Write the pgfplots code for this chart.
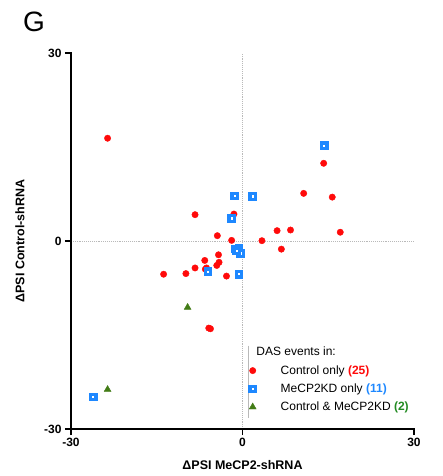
\documentclass[border=0pt]{standalone}
\usepackage{pgfplots}
\pgfplotsset{compat=1.18}
\usepackage{fontspec}
\setmainfont{Liberation Sans}
\definecolor{cred}{RGB}{255,10,10}
\definecolor{cblue}{RGB}{30,136,255}
\definecolor{cgreen}{RGB}{66,124,22}
\definecolor{tgreen}{RGB}{34,139,34}
\definecolor{lgray}{RGB}{185,185,185}
\begin{document}
\begin{tikzpicture}
\useasboundingbox (-71pt,-47pt) rectangle (371pt,429pt);
\begin{axis}[
  at={(0,0)}, anchor=south west, scale only axis,
  width=343pt, height=376pt,
  xmin=-30, xmax=30, ymin=-30, ymax=30,
  axis x line=bottom, axis y line=left,
  axis line style={-, line width=1.3pt, black},
  xtick={-30,0,30}, ytick={-30,0,30},
  tick align=outside,
  major tick length=6pt,
  tick style={line width=1.3pt, black},
  /pgf/number format/assume math mode=true,
  tick label style={font=\bfseries\fontsize{12}{14}\selectfont},
  xlabel={\bfseries ΔPSI MeCP2-shRNA},
  ylabel={\bfseries ΔPSI Control-shRNA},
  label style={font=\bfseries\fontsize{12.5}{15}\selectfont},
  xlabel style={at={(axis description cs:0.5,0)}, anchor=center, yshift=-36pt},
  ylabel style={at={(axis description cs:0,0.5)}, anchor=center, yshift=51pt},
  clip=false,
  legend style={at={(axis cs:0.62,-19.2)}, anchor=north west, draw=none, fill=none,
    font=\fontsize{12}{14}\selectfont, row sep=4pt, legend cell align=left},
  legend image code/.code={\path[draw=none,fill=none] (0pt,-4pt) rectangle (29pt,4pt); \draw[#1] plot coordinates {(3pt,0pt)};},
]
\draw[lgray, densely dotted, line width=0.9pt] (axis cs:0,-30) -- (axis cs:0,30);
\draw[lgray, densely dotted, line width=0.9pt] (axis cs:-30,0) -- (axis cs:30,0);

\addplot[only marks, mark=*, mark size=3.2pt, draw=cred, fill=cred] coordinates {
(-23.6,16.4) (-8.3,4.2) (-1.5,4.3) (-4.4,0.85) (-1.9,0.1)
(14.2,12.4) (10.7,7.6) (15.7,7.0) (6.05,1.65) (8.4,1.75)
(17.1,1.4) (3.4,0.05) (6.8,-1.3) (-4.2,-2.2) (-6.6,-3.1)
(-4.1,-3.4) (-4.5,-3.9) (-8.3,-4.3) (-6.3,-4.3) (-6.5,-4.5)
(-9.9,-5.2) (-13.8,-5.3) (-2.8,-5.6) (-5.9,-13.9) (-5.6,-14.0)
};
\addlegendentry{Control only {\bfseries\color{cred}(25)}}

\addplot[only marks, mark=square*, mark size=2.7pt, draw=cblue, fill=white, line width=3.2pt] coordinates {
(14.3,15.2) (-1.35,7.2) (1.8,7.1) (-1.9,3.6) (-1.2,-1.3)
(-0.6,-1.2) (-0.3,-2.0) (-6.0,-4.9) (-0.6,-5.3) (-26.1,-24.9) (-1.0,-1.6)
};
\addlegendentry{MeCP2KD only {\bfseries\color{cblue}(11)}}

\addplot[only marks, mark=triangle*, mark size=4pt, draw=cgreen, fill=cgreen] coordinates {
(-9.6,-10.6) (-23.6,-23.7)
};
\addlegendentry{Control \& MeCP2KD {\bfseries\color{tgreen}(2)}}

\draw[lgray, line width=1.2pt] (axis cs:1.1,-16.7) -- (axis cs:1.1,-28.2);
\node[anchor=base west, font=\fontsize{12}{14}\selectfont, inner sep=0pt] at (axis cs:2.4,-18.2) {DAS events in:};
\end{axis}
% axis frame lines and ticks as TeX rules (axis box is (0,0)--(343pt,376pt))
\node[inner sep=0pt, outer sep=0pt, anchor=south] at (0pt,-0.65pt) {\rule{1.3pt}{377.3pt}};
\node[inner sep=0pt, outer sep=0pt, anchor=west] at (-0.65pt,0pt) {\rule[-0.65pt]{344.3pt}{1.3pt}};
\node[inner sep=0pt, outer sep=0pt, anchor=east] at (0pt,376pt) {\rule[-0.65pt]{6pt}{1.3pt}};
\node[inner sep=0pt, outer sep=0pt, anchor=east] at (0pt,188pt) {\rule[-0.65pt]{6pt}{1.3pt}};
\node[inner sep=0pt, outer sep=0pt, anchor=east] at (0pt,0pt) {\rule[-0.65pt]{6pt}{1.3pt}};
\node[inner sep=0pt, outer sep=0pt, anchor=north] at (0pt,0pt) {\rule{1.3pt}{6pt}};
\node[inner sep=0pt, outer sep=0pt, anchor=north] at (171.5pt,0pt) {\rule{1.3pt}{6pt}};
\node[inner sep=0pt, outer sep=0pt, anchor=north] at (343pt,0pt) {\rule{1.3pt}{6pt}};
\node[font=\fontsize{28}{30}\selectfont] at (-37pt,407pt) {G};
\end{tikzpicture}
\end{document}
